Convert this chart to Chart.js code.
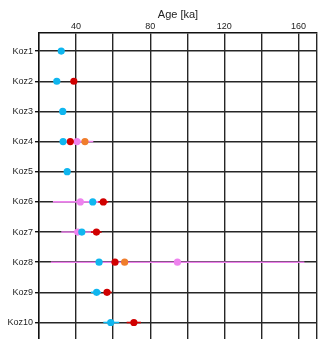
<!DOCTYPE html>
<html>
<head>
<meta charset="utf-8">
<script src="https://cdn.jsdelivr.net/npm/chart.js@4"></script>
<style>
  html, body { margin: 0; padding: 0; background: #fff; overflow: hidden; }
  #wrap { width: 323px; height: 348px; }
</style>
</head>
<body>
<div id="wrap"><canvas id="ageChart"></canvas></div>
<script>
// ==========================
// DATA
// ==========================
const samples = ['Koz1', 'Koz2', 'Koz3', 'Koz4', 'Koz5', 'Koz6', 'Koz7', 'Koz8', 'Koz9', 'Koz10'];

const blueAge = [32, 29.6, 32.8, 33.0, 35.2, 49.0, 43.1, 52.4, 51.1, 58.7];
const blueLo  = [null, null, null, null, null, null, null, null, 48.0, 54.7];
const blueHi  = [null, null, null, null, null, null, null, null, 53.5, 63.3];

const redAge = [null, 38.8, null, 36.9, null, 54.7, 51.0, 61.0, 56.7, 71.2];
const redLo  = [null, null, null, null, null, 52.0, 48.0, null, 55.0, 67.3];
const redHi  = [null, null, null, null, null, 57.4, 53.8, null, 59.2, 75.0];

const violetAge = [null, null, null, 40.5, null, 42.3, 40.9, 94.7, null, null];
const violetLo  = [null, null, null, 34.0, null, 27.5, 32.0, 26.4, null, null];
const violetHi  = [null, null, null, 49.3, null, 57.0, 50.0, 163.2, null, null];

const orangeAge = [null, null, null, 44.8, null, null, null, 66.2, null, null];

const gridAges = [20, 40, 60, 80, 100, 120, 140, 160, 170];
const ageTicks = [40, 80, 120, 160];

const BLUE = '#0fb6ef';
const RED = '#d10000';
const VIOLET = '#ee82ee';
const ORANGE = '#f07d2c';

function toPoints(ages) {
    const pts = [];
    ages.forEach((a, i) => {
        if (a !== null) pts.push({ x: a, y: i + 1 });
    });
    return pts;
}

// ==========================
// ERROR BARS
// ==========================
const errorBars = [
    { lo: violetLo, hi: violetHi, color: VIOLET },
    { lo: redLo, hi: redHi, color: RED },
    { lo: blueLo, hi: blueHi, color: BLUE }
];

const errorBarPlugin = {
    id: 'errorBars',
    beforeDatasetsDraw(chart) {
        const ctx = chart.ctx;
        const xs = chart.scales.x;
        const ys = chart.scales.y;
        ctx.save();
        ctx.lineWidth = 1.6;
        errorBars.forEach(bar => {
            ctx.strokeStyle = bar.color;
            bar.lo.forEach((lo, i) => {
                const hi = bar.hi[i];
                if (lo === null || hi === null) return;
                const y = ys.getPixelForValue(i + 1);
                ctx.beginPath();
                ctx.moveTo(xs.getPixelForValue(lo), y);
                ctx.lineTo(xs.getPixelForValue(hi), y);
                ctx.stroke();
            });
        });
        ctx.restore();
    }
};

// ==========================
// CHART
// ==========================
const ctx = document.getElementById('ageChart').getContext('2d');

const ageChart = new Chart(ctx, {
    type: 'scatter',
    data: {
        datasets: [
            { label: 'blue', data: toPoints(blueAge), backgroundColor: BLUE },
            { label: 'red', data: toPoints(redAge), backgroundColor: RED },
            { label: 'orange', data: toPoints(orangeAge), backgroundColor: ORANGE },
            { label: 'violet', data: toPoints(violetAge), backgroundColor: VIOLET }
        ]
    },
    options: {
        responsive: true,
        maintainAspectRatio: false,
        animation: false,
        layout: { padding: { left: 0, right: 6, top: 0, bottom: 0 } },
        elements: { point: { radius: 3.6, borderWidth: 0, hoverRadius: 3.6 } },
        plugins: {
            legend: { display: false },
            tooltip: { enabled: false }
        },
        scales: {
            x: {
                position: 'top',
                min: 20,
                max: 170,
                afterBuildTicks: scale => {
                    scale.ticks = gridAges.map(v => ({ value: v }));
                },
                ticks: {
                    padding: 1,
                    autoSkip: false,
                    maxRotation: 0,
                    color: '#222',
                    font: { family: 'Liberation Sans, Arial, sans-serif', size: 9 },
                    callback: v => ageTicks.includes(v) ? String(v) : ''
                },
                grid: { color: '#262626', lineWidth: 1.4, drawTicks: false },
                border: { color: '#111', width: 1.4 },
                title: {
                    display: true,
                    text: 'Age [ka]',
                    color: '#222',
                    padding: { top: 8, bottom: 0 },
                    font: { family: 'Liberation Sans, Arial, sans-serif', size: 11 }
                },
                afterFit: scale => { scale.height = 33; }
            },
            y: {
                reverse: true,
                min: 0.4,
                max: 10.6,
                afterBuildTicks: scale => {
                    scale.ticks = samples.map((s, i) => ({ value: i + 1 }));
                },
                ticks: {
                    padding: 2,
                    color: '#222',
                    font: { family: 'Liberation Sans, Arial, sans-serif', size: 9 },
                    callback: v => samples[v - 1]
                },
                grid: { color: '#262626', lineWidth: 1.4, tickLength: 4, tickColor: '#111' },
                border: { color: '#111', width: 1.4 },
                afterFit: scale => { scale.width = 39; }
            }
        }
    },
    plugins: [errorBarPlugin]
});
</script>
</body>
</html>
